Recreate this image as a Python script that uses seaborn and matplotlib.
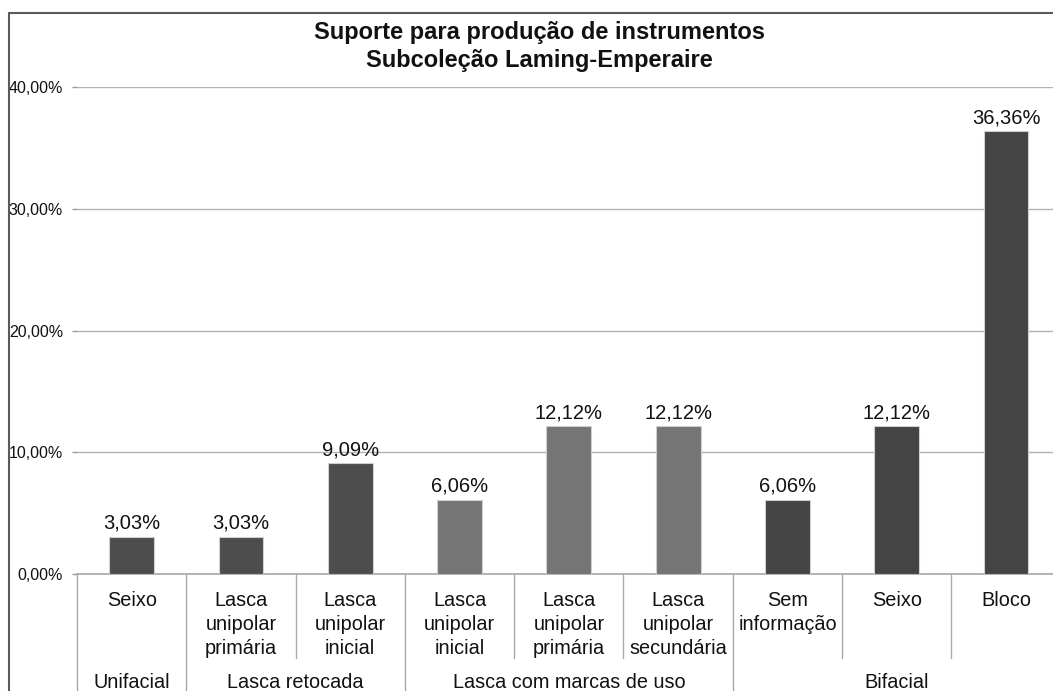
import matplotlib
matplotlib.use("Agg")
import matplotlib.pyplot as plt
import matplotlib.transforms as mtransforms
from matplotlib.lines import Line2D
import seaborn as sns
import pandas as pd

# ---- data ----
categories = ["Seixo", "Lasca\nunipolar\nprimária", "Lasca\nunipolar\ninicial",
              "Lasca\nunipolar\ninicial", "Lasca\nunipolar\nprimária", "Lasca\nunipolar\nsecundária",
              "Sem\ninformação", "Seixo", "Bloco"]
groups = ["Unifacial", "Lasca retocada", "Lasca retocada",
          "Lasca com marcas de uso", "Lasca com marcas de uso", "Lasca com marcas de uso",
          "Bifacial", "Bifacial", "Bifacial"]
values = [3.03, 3.03, 9.09, 6.06, 12.12, 12.12, 6.06, 12.12, 36.36]
group_names = ["Unifacial", "Lasca retocada", "Lasca com marcas de uso", "Bifacial"]
group_colors = {"Unifacial": "#4d4d4d", "Lasca retocada": "#4d4d4d",
                "Lasca com marcas de uso": "#757575", "Bifacial": "#444444"}
yticks = [0, 10, 20, 30, 40]
title_lines = ["Suporte para produção de instrumentos", "Subcoleção Laming-Emperaire"]

sns.set_theme(style="white")
plt.rcParams['font.family'] = ['Liberation Sans', 'DejaVu Sans']

W, H = 1053, 691
fig = plt.figure(figsize=(W / 100, H / 100), dpi=100)
fig.patch.set_facecolor("white")
left_px, top_px, bottom_px = 77, 87, 574
step = 109.3
right_px = left_px + 9 * step
ax = fig.add_axes([left_px / W, 1 - bottom_px / H, (right_px - left_px) / W, (bottom_px - top_px) / H])

keys = [f"k{i}" for i in range(len(values))]
df = pd.DataFrame({"key": keys, "value": values, "group": groups})
sns.barplot(data=df, x="key", y="value", hue="group", order=keys, hue_order=group_names,
            palette=group_colors, dodge=False, width=0.41, edgecolor="#cfcfcf", linewidth=0.8,
            legend=False, ax=ax, zorder=3)

ax.set_xlim(-0.5, len(values) - 0.5)
ax.set_ylim(0, 40)
ax.set_yticks(yticks)
ax.set_yticklabels([f"{t:.2f}".replace(".", ",") + "%" for t in yticks], fontsize=11.5, color="#111111")
ax.yaxis.grid(True, color="#b3b3b3", linewidth=1.0, zorder=0)
ax.xaxis.grid(False)
ax.tick_params(axis="y", length=3.6, width=1, color="#999999", pad=6.5, left=True)
ax.set_xticks(range(len(values)))
ax.set_xticklabels(categories, fontsize=14.3, linespacing=1.33, va="top", color="#111111")
ax.tick_params(axis="x", length=0, pad=12.5)
ax.set_xlabel("")
ax.set_ylabel("")
for s in ["top", "right"]:
    ax.spines[s].set_visible(False)
ax.spines["bottom"].set_color("#aaaaaa")
ax.spines["left"].set_visible(False)

# data labels
for i, v in enumerate(values):
    ax.text(i, v + 0.35, f"{v:.2f}".replace(".", ",") + "%", ha="center", va="bottom",
            fontsize=14.5, color="#111111", zorder=4)

# separators
trans = mtransforms.blended_transform_factory(ax.transData, fig.transFigure)
boundaries = [-0.5]
count = 0
for g in group_names:
    count += groups.count(g)
    boundaries.append(count - 0.5)
y0 = 1 - bottom_px / H
for b in range(len(values)):
    x = b - 0.5
    y1 = 0 if x in boundaries else 1 - 658 / H
    fig.add_artist(Line2D([x, x], [y0, y1], transform=trans, color="#aaaaaa", lw=1.0, clip_on=False))

# group labels
for gi, g in enumerate(group_names):
    c = (boundaries[gi] + boundaries[gi + 1]) / 2
    fig.text(c, 1 - 683 / H, g, transform=trans, ha="center", va="center", fontsize=14.3, color="#111111")

# title
for line, ypx in zip(title_lines, [33, 60]):
    fig.text(539 / W, 1 - ypx / H, line, ha="center", va="center", fontsize=17, fontweight="bold",
             color="#111111")

# outer chart border (cropped on right and bottom)
fig.add_artist(Line2D([9 / W, 1.0], [1 - 13 / H, 1 - 13 / H], transform=fig.transFigure,
                      color="#5a5a5a", lw=1.5))
fig.add_artist(Line2D([9 / W, 9 / W], [1 - 13 / H, 0], transform=fig.transFigure,
                      color="#5a5a5a", lw=1.5))

fig.savefig("out.png", dpi=100)
